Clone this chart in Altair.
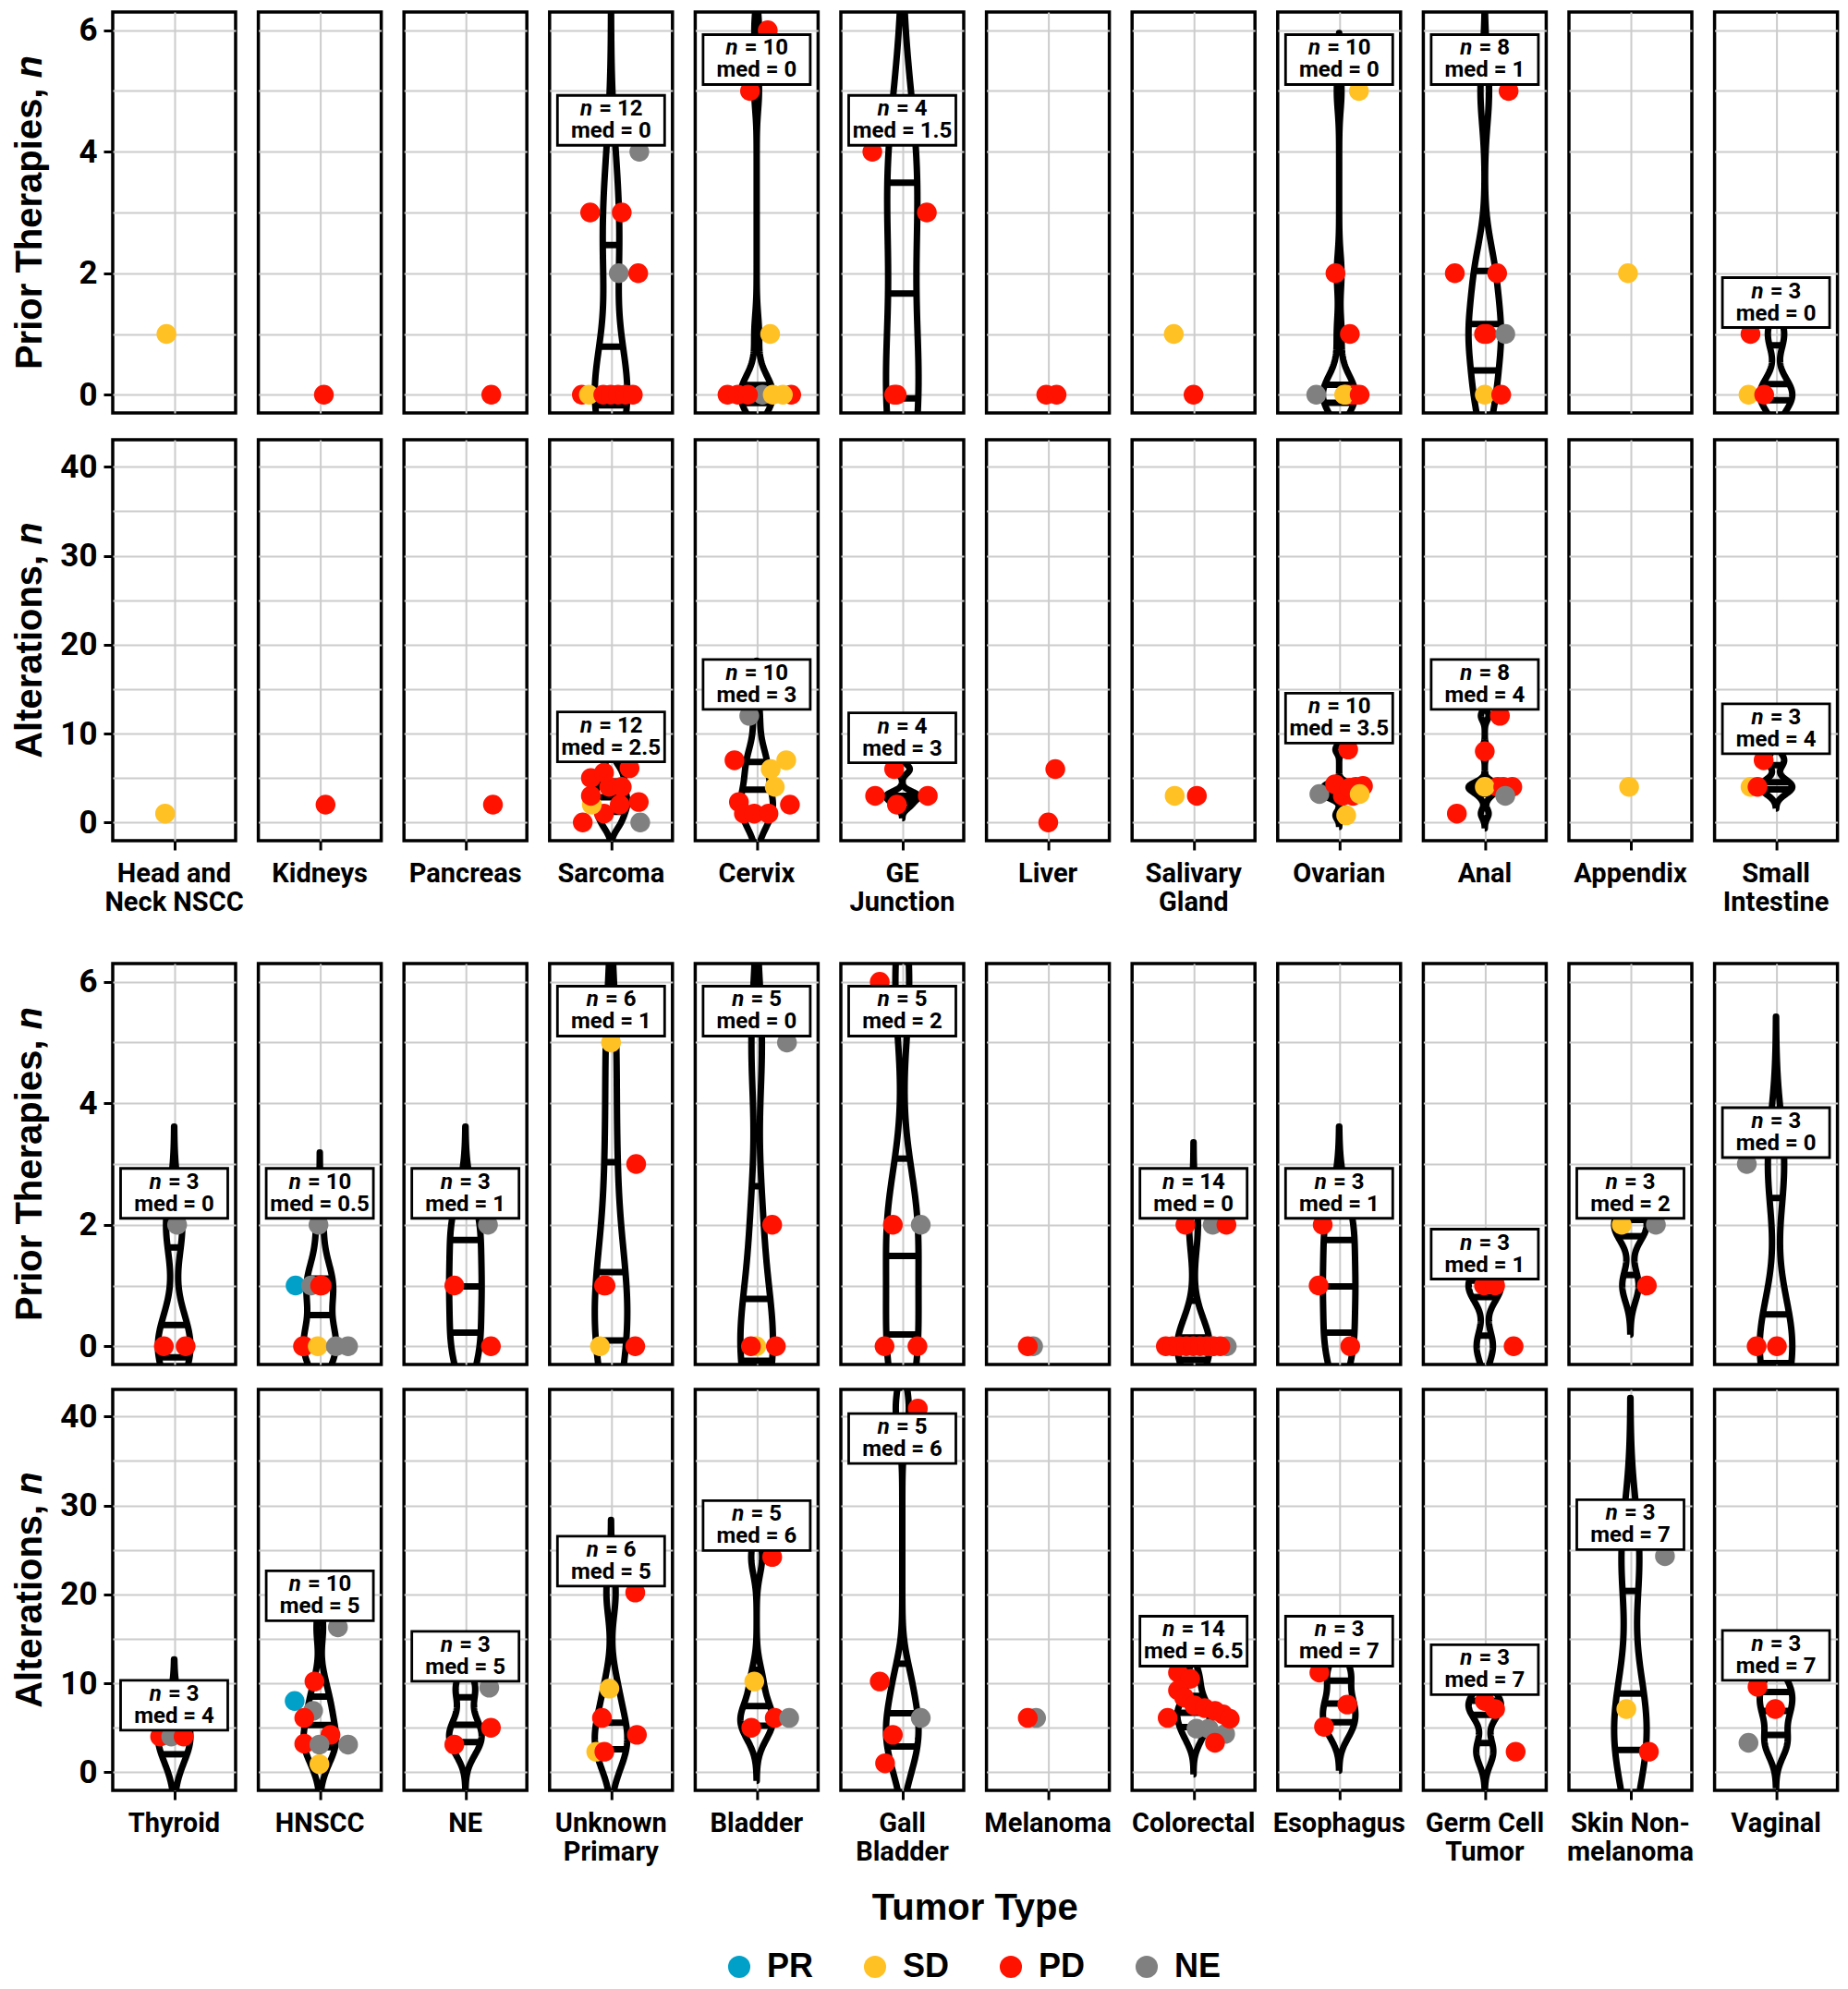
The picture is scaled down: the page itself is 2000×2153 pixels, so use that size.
import altair as alt
import numpy as np
import pandas as pd

alt.data_transformers.disable_max_rows()

PR, SD, PD, NE = "PR", "SD", "PD", "NE"
response_order = [PR, SD, PD, NE]
response_colors = ["#00A0C8", "#FFC124", "#FF1200", "#808080"]

top_tumors = ["Head and\nNeck NSCC", "Kidneys", "Pancreas", "Sarcoma", "Cervix", "GE\nJunction",
              "Liver", "Salivary\nGland", "Ovarian", "Anal", "Appendix", "Small\nIntestine"]
bottom_tumors = ["Thyroid", "HNSCC", "NE", "Unknown\nPrimary", "Bladder", "Gall\nBladder",
                 "Melanoma", "Colorectal", "Esophagus", "Germ Cell\nTumor", "Skin Non-\nmelanoma", "Vaginal"]

# ---------------- top block: prior therapies ----------------
top_prior_values = [
    [1], [0], [0],
    [3, 3, 2, 2, 4, 0, 0, 0, 0, 0, 0, 0],
    [6, 5, 1, 0, 0, 0, 0, 0, 0, 0],
    [4, 3, 0, 0],
    [0, 0],
    [1, 0],
    [0, 0, 0, 0, 5, 2, 1, 0, 0, 0],
    [1, 5, 2, 2, 1, 1, 0, 0],
    [2],
    [1, 0, 0],
]
top_prior_resp = [
    [SD], [PD], [PD],
    [PD, PD, NE, PD, NE, PD, SD, PD, PD, PD, PD, PD],
    [PD, PD, SD, NE, PD, PD, PD, PD, SD, SD],
    [PD, PD, PD, PD],
    [PD, PD],
    [SD, PD],
    [PD, PD, SD, PD, SD, PD, PD, NE, SD, PD],
    [PD, PD, PD, PD, PD, NE, SD, PD],
    [SD],
    [PD, SD, PD],
]
top_prior_jitter = [
    [-0.42], [0.22], [1.4],
    [-1.13, 0.58, 0.42, 1.47, 1.53, -1.58, -1.2, -0.42, -0.02, 0.38, 0.78, 1.18],
    [0.6, -0.36, 0.73, 0.31, -1.58, -1.02, -0.47, 1.87, 0.87, 1.42],
    [-1.62, 1.33, -0.3, -0.44],
    [-0.09, 0.47],
    [-1.07, 0.0],
    [0.5, 0.75, 0.35, 0.95, 1.07, -0.2, 0.58, -1.24, 0.27, 1.11],
    [0.1, 1.29, -1.62, 0.67, -0.04, 1.11, 0.0, 0.89],
    [-0.13],
    [-1.38, -1.49, -0.64],
]
top_prior_med = [None, None, None, "0", "0", "1.5", None, None, "0", "1", None, "0"]

# ---------------- top block: alterations ----------------
top_alt_values = [
    [1], [2], [2],
    [4, 0, 0, 1, 2, 2, 2.3, 3, 4, 5, 5.6, 6.1],
    [12, 7, 7, 6, 4, 2, 2.3, 1, 1, 1],
    [6, 3, 3, 2],
    [6, 0],
    [3, 3],
    [3, 3, 4, 8.2, 3.2, 4.3, 3.9, 4.1, 3.2, 0.8],
    [4, 12, 8, 4, 4, 4, 3, 1],
    [4],
    [7, 4, 4],
]
top_alt_resp = [
    [SD], [PD], [PD],
    [PD, PD, NE, PD, SD, PD, PD, PD, PD, PD, PD, PD],
    [NE, PD, SD, SD, SD, PD, PD, PD, PD, PD],
    [PD, PD, PD, PD],
    [PD, PD],
    [SD, PD],
    [PD, PD, PD, PD, NE, PD, PD, PD, SD, SD],
    [PD, PD, PD, SD, PD, PD, NE, PD],
    [SD],
    [PD, SD, PD],
]
top_alt_jitter = [
    [-0.49], [0.31], [1.49],
    [-0.1, -1.53, 1.58, -0.38, -1.04, 0.47, 1.5, -1.09, 0.58, -1.09, -0.38, 1.0],
    [-0.4, -1.2, 1.6, 0.76, 0.98, 1.8, -0.96, -0.69, -0.13, 0.64],
    [-0.44, -1.47, 1.38, -0.29],
    [0.4, 0.02],
    [-1.02, 0.18],
    [0.2, 0.75, 0.9, 0.49, -1.07, -0.22, 0.56, 1.29, 1.11, 0.38],
    [0.7, 0.82, 0.0, 0.0, 1.0, 1.49, 1.11, -1.51],
    [-0.07],
    [-0.67, -1.38, -1.0],
]
top_alt_med = [None, None, None, "2.5", "3", "3", None, None, "3.5", "4", None, "4"]

# ---------------- bottom block: prior therapies ----------------
bottom_prior_values = [
    [0, 0, 2],
    [0, 1, 2, 1, 1, 1, 0, 0, 0, 0],
    [2, 1, 0],
    [1, 5, 3, 1, 0, 0],
    [5, 2, 0, 0, 0],
    [6, 2, 2, 0, 0],
    [0, 0],
    [2, 2, 2, 0, 0, 0, 0, 0, 0, 0, 0, 0, 0, 0],
    [2, 1, 0],
    [1, 1, 0],
    [2, 2, 1],
    [3, 0, 0],
]
bottom_prior_resp = [
    [PD, PD, NE],
    [PD, PD, NE, PR, NE, PD, PD, SD, NE, NE],
    [NE, PD, PD],
    [PD, SD, PD, PD, SD, PD],
    [NE, PD, SD, PD, PD],
    [PD, PD, NE, PD, PD],
    [NE, PD],
    [PD, NE, PD, NE, NE, PD, PD, PD, PD, PD, PD, PD, PD, PD],
    [PD, PD, PD],
    [PD, PD, PD],
    [SD, NE, PD],
    [NE, PD, PD],
]
bottom_prior_jitter = [
    [-0.56, 0.62, 0.16],
    [-0.85, 0.1, -0.07, -1.31, -0.47, 0.02, -0.91, -0.11, 0.87, 1.53],
    [1.22, -0.6, 1.38],
    [-0.3, 0.0, 1.36, -0.38, -0.6, 1.31],
    [1.64, 0.84, -0.02, -0.31, 1.04],
    [-1.22, -0.51, 1.0, -0.96, 0.82],
    [-0.8, -1.09],
    [-0.44, 1.04, 1.78, 1.8, 1.0, -1.5, -1.13, -0.76, -0.39, -0.02, 0.35, 0.72, 1.09, 1.45],
    [-0.89, -1.11, 0.6],
    [-0.04, 0.56, 1.56],
    [-0.47, 1.38, 0.89],
    [-1.58, -1.05, 0.05],
]
bottom_prior_med = ["0", "0.5", "1", "1", "0", "2", None, "0", "1", "1", "2", "0"]

# ---------------- bottom block: alterations ----------------
bottom_alt_values = [
    [4, 4, 4],
    [16.3, 10.2, 8, 6.9, 6.1, 4.2, 3.2, 3.1, 3.1, 0.9],
    [9.5, 5, 3.1],
    [20.2, 9.4, 6.1, 4.2, 2.3, 2.3],
    [24.2, 10.2, 6.1, 6.1, 5],
    [40.9, 10.2, 6.1, 4.2, 1],
    [6.1, 6.1],
    [4.9, 4.9, 4.3, 11.2, 10.5, 9.2, 8.4, 7.5, 7.2, 6.9, 6.5, 6.0, 6.1, 3.3],
    [11.2, 7.6, 5.1],
    [8, 7.1, 2.3],
    [24.3, 7.1, 2.3],
    [9.6, 7.1, 3.3],
]
bottom_alt_resp = [
    [PD, NE, PD],
    [NE, PD, PR, NE, PD, PD, PD, NE, NE, SD],
    [NE, PD, PD],
    [PD, SD, PD, PD, SD, PD],
    [PD, SD, PD, NE, PD],
    [PD, PD, NE, PD, PD],
    [NE, PD],
    [NE, NE, NE, PD, PD, PD, PD, PD, PD, PD, PD, PD, PD, PD],
    [PD, PD, PD],
    [PD, PD, PD],
    [NE, SD, PD],
    [PD, PD, NE],
]
bottom_alt_jitter = [
    [-0.76, -0.16, 0.51],
    [0.98, -0.29, -1.36, -0.36, -0.84, 0.58, -0.84, -0.02, 1.53, -0.02],
    [1.29, 1.38, -0.6],
    [1.31, -0.09, -0.49, 1.4, -0.8, -0.36],
    [0.84, -0.13, 0.98, 1.76, -0.29],
    [0.84, -1.22, 1.0, -0.51, -0.93],
    [-0.64, -1.09],
    [0.16, 0.82, 1.71, -0.84, -0.18, -0.84, -0.51, 0.04, 0.6, 1.16, 1.6, 1.96, -1.4, 1.16],
    [-1.07, 0.44, -0.82],
    [0.0, 0.56, 1.67],
    [1.87, -0.22, 1.0],
    [-1.0, -0.04, -1.49],
]
bottom_alt_med = ["4", "5", "5", "5", "6", "6", None, "6.5", "7", "7", "7", "7"]

prior_domain = [-0.3, 6.3]
alt_domain = [-2.05, 43.05]
prior_label_cap = 5
alt_label_cap = 34
prior_title = ("Prior Therapies,", "n")
alt_title = ("Alterations,", "n")
x_title = "Tumor Type"

# ---------------- styling ----------------
PANEL_W = 133
PANEL_H = 434
COL_SPACING = 24.6
PX_PER_UNIT = 20.0
X_HALF = PANEL_W / 2 / PX_PER_UNIT
VIOLIN_SCALE = 0.88
GRID = "#CCCCCC"
FONT_LAB = "Roboto, 'Liberation Sans', sans-serif"
FONT_TITLE = "'Liberation Sans', Arial, sans-serif"
BOX_W, BOX_H, BOX_GAP = 116, 54, 7
LAB_FS = 24
LINE_OFF = 12
BOX_PATH = "M-1,-{h}L1,-{h}L1,{h}L-1,{h}Z".format(h=round(BOX_H / BOX_W, 4))
YT_FS = 40
YT_OFFSET = 89      # px from panel's left edge to y-title centre
XT_BELOW = 128      # px from bottom panel edge to x-title centre


def est_width(s, fs):
    w = {"=": 0.58, " ": 0.25, ".": 0.27}
    return sum(w.get(c, 0.562) for c in s) * fs


def arial_bold_width(s, fs):
    w = {"P": .667, "r": .389, "i": .278, "o": .611, " ": .278, "T": .611, "h": .611, "e": .556,
         "a": .556, "p": .611, "s": .556, ",": .278, "A": .722, "l": .278, "t": .333, "n": .611}
    return sum(w.get(c, 0.6) for c in s) * fs


def violin(vals):
    x = np.asarray(vals, float)
    n = len(x)
    sd = x.std(ddof=1)
    q1, q3 = np.percentile(x, [25, 75])
    lo = min(sd, (q3 - q1) / 1.34)
    if not lo:
        lo = sd or abs(x[0]) or 1.0
    bw = 0.9 * lo * n ** -0.2
    ys = np.linspace(x.min() - 3 * bw, x.max() + 3 * bw, 200)
    dens = np.exp(-0.5 * ((ys[:, None] - x[None, :]) / bw) ** 2).sum(1) / (n * bw * np.sqrt(2 * np.pi))
    w = dens / dens.max() * VIOLIN_SCALE
    cdf = np.cumsum(dens) / dens.sum()
    qy = np.interp([0.25, 0.5, 0.75], cdf, ys)
    qw = np.interp(qy, ys, w)
    return ys, w, qy, qw


def row_frame(tumors, values, resps, jitters, meds, cap, ydom, title, xtitle=None):
    recs = []
    for t, vals, rs, js, med in zip(tumors, values, resps, jitters, meds):
        if med is not None:
            ys, w, qy, qw = violin(vals)
            path = [(-a, b) for a, b in zip(w, ys)] + [(a, b) for a, b in zip(w[::-1], ys[::-1])]
            path.append(path[0])
            for k, (xx, yy) in enumerate(path):
                recs.append(dict(tumor=t, kind="violin", x=float(xx), y=float(yy), order=k))
            for yy, ww in zip(qy, qw):
                recs.append(dict(tumor=t, kind="q", x=float(-ww), x2=float(ww), y=float(yy)))
        for v, r, j in zip(vals, rs, js):
            recs.append(dict(tumor=t, kind="pt", x=j, y=v, resp=r))
        if med is not None:
            rest = "= {}".format(len(vals))
            wn, gap, wr = 0.56 * LAB_FS, 0.3 * LAB_FS, est_width(rest, LAB_FS)
            start = -(wn + gap + wr) / 2
            recs.append(dict(tumor=t, kind="lab", x=0.0, y=min(max(vals), cap),
                             xn=(start + wn) / PX_PER_UNIT, xr=(start + wn + gap) / PX_PER_UNIT,
                             rest=rest, medt="med = " + med))
    span = ydom[1] - ydom[0]
    to_val = lambda px: ydom[1] - px / PANEL_H * span
    # axis title pieces (regular words + italic n), placed left of first panel
    w1 = arial_bold_width(title[0], YT_FS)
    gap = 0.278 * YT_FS
    wn = 0.611 * YT_FS
    anchor_px = PANEL_H / 2 - (w1 - gap - wn) / 2
    xt = -X_HALF - YT_OFFSET / PX_PER_UNIT
    recs.append(dict(tumor=tumors[0], kind="yt1", x=xt, y=to_val(anchor_px), txt=title[0]))
    recs.append(dict(tumor=tumors[0], kind="yt2", x=xt, y=to_val(anchor_px - gap), txt=title[1]))
    if xtitle:
        # centred in the gap between the 6th and 7th panel, i.e. the middle of the 12 panels
        mid = len(tumors) // 2
        recs.append(dict(tumor=tumors[mid], kind="xt", x=-X_HALF - COL_SPACING / 2 / PX_PER_UNIT,
                         y=to_val(PANEL_H + XT_BELOW), txt=xtitle))
    return pd.DataFrame(recs)


LEGEND = alt.Legend(orient="none", legendX=660, legendY=2098, direction="horizontal", title=None,
                    symbolType="circle", symbolSize=580, symbolStrokeWidth=0, symbolOpacity=1,
                    labelFont=FONT_TITLE, labelFontSize=36, labelFontWeight="bold", labelColor="black",
                    labelOffset=12, columnPadding=48)


def row_chart(df, tumors, ydom, yvals, lab_every, bottom):
    xs = alt.Scale(domain=[-X_HALF, X_HALF], nice=False, zero=False)
    ysc = alt.Scale(domain=ydom, nice=False, zero=False)
    xaxis = alt.Axis(values=[0], grid=True, gridColor=GRID, gridWidth=2, domain=False, labels=False,
                     ticks=bottom, tickSize=10, tickWidth=3, tickColor="black", title=None)
    yaxis = alt.Axis(values=yvals,
                     labelExpr="datum.value % {} == 0 ? datum.label : ''".format(lab_every),
                     tickOpacity={"condition": {"test": "datum.value % {} != 0".format(lab_every), "value": 0},
                                  "value": 1},
                     tickSize=10, tickWidth=3, tickColor="black",
                     labelFont=FONT_LAB, labelFontSize=35, labelFontWeight="bold", labelColor="black",
                     labelPadding=7, grid=True, gridColor=GRID, gridWidth=2, domain=False,
                     title=None, minExtent=60, maxExtent=60)
    X = alt.X("x:Q", scale=xs, axis=xaxis)
    Y = alt.Y("y:Q", scale=ysc, axis=yaxis)
    color = alt.Color("resp:N", scale=alt.Scale(domain=response_order, range=response_colors), legend=LEGEND)
    base = alt.Chart()
    vio = base.transform_filter("datum.kind == 'violin'").mark_line(
        color="black", strokeWidth=7, clip=True, strokeJoin="round").encode(x=X, y=Y, order="order:Q")
    qua = base.transform_filter("datum.kind == 'q'").mark_rule(
        color="black", strokeWidth=7, clip=True).encode(x=X, x2="x2:Q", y=Y)
    pts = base.transform_filter("datum.kind == 'pt'").mark_circle(
        size=460, opacity=1, clip=True).encode(x=X, y=Y, color=color)
    lab = base.transform_filter("datum.kind == 'lab'")
    box = lab.mark_point(shape=BOX_PATH, size=BOX_W ** 2, filled=True, fill="white", stroke="black",
                         strokeWidth=2.8, opacity=1, yOffset=-(BOX_GAP + BOX_H / 2)).encode(x=X, y=Y)
    tn = lab.mark_text(text="n", font=FONT_LAB, fontSize=LAB_FS, fontWeight="bold", fontStyle="italic",
                       align="right", baseline="middle", color="black",
                       dy=-(BOX_GAP + BOX_H / 2 + LINE_OFF)).encode(x=alt.X("xn:Q", scale=xs, axis=xaxis), y=Y)
    tr = lab.mark_text(font=FONT_LAB, fontSize=LAB_FS, fontWeight="bold", align="left", baseline="middle",
                       color="black", dy=-(BOX_GAP + BOX_H / 2 + LINE_OFF)).encode(
        x=alt.X("xr:Q", scale=xs, axis=xaxis), y=Y, text="rest:N")
    tm = lab.mark_text(font=FONT_LAB, fontSize=LAB_FS, fontWeight="bold", align="center", baseline="middle",
                       color="black", dy=-(BOX_GAP + BOX_H / 2 - LINE_OFF)).encode(x=X, y=Y, text="medt:N")
    yt1 = base.transform_filter("datum.kind == 'yt1'").mark_text(
        font=FONT_TITLE, fontSize=YT_FS, fontWeight="bold", angle=270, align="right", baseline="middle",
        color="black").encode(x=X, y=Y, text="txt:N")
    yt2 = base.transform_filter("datum.kind == 'yt2'").mark_text(
        font=FONT_TITLE, fontSize=YT_FS, fontWeight="bold", fontStyle="italic", angle=270, align="left",
        baseline="middle", color="black").encode(x=X, y=Y, text="txt:N")
    xtl = base.transform_filter("datum.kind == 'xt'").mark_text(
        font=FONT_TITLE, fontSize=40, fontWeight="bold", align="center", baseline="middle",
        color="black").encode(x=X, y=Y, text="txt:N")
    layer = alt.layer(vio, qua, pts, box, tn, tr, tm, yt1, yt2, xtl, data=df).properties(
        width=PANEL_W, height=PANEL_H)
    if bottom:
        header = alt.Header(labelOrient="bottom", labelFont=FONT_LAB, labelFontSize=29, labelFontWeight="bold",
                            labelColor="black", labelExpr="split(datum.value, '\\n')", labelLineHeight=31,
                            labelPadding=10, labelBaseline="top", labelAlign="center")
        col = alt.Column("tumor:N", sort=tumors, title=None, header=header)
    else:
        col = alt.Column("tumor:N", sort=tumors, title=None, header=None)
    return layer.facet(column=col, spacing=COL_SPACING, bounds="flush")


df1 = row_frame(top_tumors, top_prior_values, top_prior_resp, top_prior_jitter, top_prior_med,
                prior_label_cap, prior_domain, prior_title)
df2 = row_frame(top_tumors, top_alt_values, top_alt_resp, top_alt_jitter, top_alt_med,
                alt_label_cap, alt_domain, alt_title)
df3 = row_frame(bottom_tumors, bottom_prior_values, bottom_prior_resp, bottom_prior_jitter, bottom_prior_med,
                prior_label_cap, prior_domain, prior_title)
df4 = row_frame(bottom_tumors, bottom_alt_values, bottom_alt_resp, bottom_alt_jitter, bottom_alt_med,
                alt_label_cap, alt_domain, alt_title, xtitle=x_title)

prior_ticks = list(range(0, 7))
alt_ticks = list(range(0, 45, 5))

r1 = row_chart(df1, top_tumors, prior_domain, prior_ticks, 2, False)
r2 = row_chart(df2, top_tumors, alt_domain, alt_ticks, 10, True)
r3 = row_chart(df3, bottom_tumors, prior_domain, prior_ticks, 2, False)
r4 = row_chart(df4, bottom_tumors, alt_domain, alt_ticks, 10, True)

block1 = alt.vconcat(r1, r2, spacing=25)
block2 = alt.vconcat(r3, r4, spacing=23)
chart = alt.vconcat(block1, block2, spacing=49).properties(
    padding={"left": 3, "top": 3, "right": 0, "bottom": 0}
).configure_view(stroke="black", strokeWidth=3.5)

chart.save("out.html", embed_options={"renderer": "svg", "actions": False})
